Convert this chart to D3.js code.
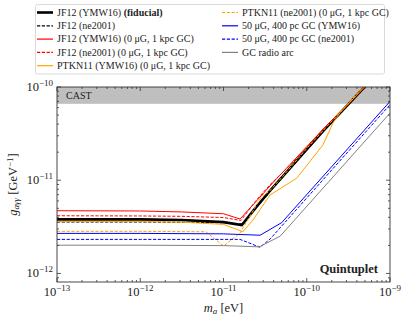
<!DOCTYPE html>
<html>
<head>
<meta charset="utf-8">
<script src="https://d3js.org/d3.v7.min.js"></script>
<style>
  body { margin: 0; background: #fff; }
  text { font-family: "Liberation Serif", "DejaVu Serif", serif; fill: #222; }
</style>
</head>
<body>
<svg width="407" height="322"></svg>
<script>
// curves: axion mass [eV] and coupling limit [GeV^-1]
const jf12ymwM = [1e-13, 1e-12, 3.16e-12, 1e-11, 1.66e-11, 2.51e-11, 3.98e-11, 6.31e-11, 1e-10, 1.58e-10, 2.51e-10, 3.98e-10, 6.31e-10];
const jf12ymwG = [3.8e-12, 3.8e-12, 3.75e-12, 3.55e-12, 3.31e-12, 5.25e-12, 8.51e-12, 1.35e-11, 2.14e-11, 3.39e-11, 5.25e-11, 8.13e-11, 1.26e-10];

const jf12neM = [1e-13, 1e-12, 3.16e-12, 1e-11, 1.7e-11, 2.51e-11, 3.98e-11, 6.31e-11, 1e-10, 1.58e-10, 2.51e-10, 3.98e-10, 6.31e-10];
const jf12neG = [3.56e-12, 3.56e-12, 3.54e-12, 3.5e-12, 3.4e-12, 5.1e-12, 8.3e-12, 1.32e-11, 2.1e-11, 3.35e-11, 5.2e-11, 8.1e-11, 1.26e-10];

const jf12ymw0M = [1e-13, 1e-12, 3.16e-12, 1e-11, 1.58e-11, 2.51e-11, 3.98e-11, 6.31e-11, 1e-10, 1.58e-10, 2.51e-10, 3.98e-10, 6.31e-10];
const jf12ymw0G = [4.71e-12, 4.68e-12, 4.57e-12, 4.37e-12, 3.84e-12, 6.03e-12, 9.55e-12, 1.48e-11, 2.29e-11, 3.55e-11, 5.37e-11, 8.13e-11, 1.26e-10];

const jf12ne0M = [1e-13, 1e-12, 3.16e-12, 1e-11, 1.62e-11, 2.4e-11, 3.6e-11, 6.31e-11, 1e-10, 1.58e-10, 2.51e-10, 3.98e-10, 6.31e-10];
const jf12ne0G = [4.16e-12, 4.14e-12, 4.1e-12, 3.98e-12, 3.7e-12, 5.9e-12, 8.9e-12, 1.45e-11, 2.25e-11, 3.5e-11, 5.3e-11, 8.1e-11, 1.26e-10];

const ptknYmwM = [1e-13, 1e-12, 3.16e-12, 1e-11, 1.71e-11, 2.26e-11, 3.62e-11, 7.57e-11, 1.57e-10, 2.07e-10, 2.51e-10, 3.98e-10, 6.31e-10];
const ptknYmwG = [3.6e-12, 3.6e-12, 3.55e-12, 3.36e-12, 2.8e-12, 3.74e-12, 6.95e-12, 1.05e-11, 2.4e-11, 4.13e-11, 5.3e-11, 8.2e-11, 1.27e-10];

const ptknNeM = [1e-13, 1e-12, 6.17e-12, 1e-11, 1.58e-11, 2.88e-11, 3.55e-11, 5e-11, 1e-10, 2.51e-10, 6.31e-10];
const ptknNeG = [2.83e-12, 2.83e-12, 2.8e-12, 1.97e-12, 2.71e-12, 6.76e-12, 7.6e-12, 1.07e-11, 2.19e-11, 5.37e-11, 1.32e-10];

const gc50ymwM = [1e-13, 1e-12, 1e-11, 2.75e-11, 5e-11, 1e-9];
const gc50ymwG = [2.69e-12, 2.69e-12, 2.66e-12, 2.57e-12, 3.51e-12, 7e-11];

const gc50neM = [1e-13, 1e-12, 1.58e-11, 2.75e-11, 3.63e-11, 1e-9];
const gc50neG = [2.32e-12, 2.32e-12, 2.32e-12, 1.91e-12, 2.34e-12, 6.46e-11];

const arcM = [1e-13, 1e-12, 1e-11, 2.69e-11, 4.79e-11, 1e-9];
const arcG = [2.01e-12, 2.01e-12, 1.99e-12, 1.93e-12, 2.51e-12, 5.25e-11];

const castLimit = 6.6e-11;

const xTickVals = [-13, -12, -11, -10, -9];
const yTickVals = [-12, -11, -10];

const series = [
  { label: "JF12 (YMW16) ", bold: "(fiducial)", m: jf12ymwM, g: jf12ymwG, color: "#000", w: 2.6, dash: null },
  { label: "JF12 (ne2001)", m: jf12neM, g: jf12neG, color: "#000", w: 1, dash: "3.2,1.6" },
  { label: "JF12 (YMW16) (0 μG, 1 kpc GC)", m: jf12ymw0M, g: jf12ymw0G, color: "#ff0000", w: 1, dash: null },
  { label: "JF12 (ne2001) (0 μG, 1 kpc GC)", m: jf12ne0M, g: jf12ne0G, color: "#ff0000", w: 1, dash: "3.2,1.6" },
  { label: "PTKN11 (YMW16) (0 μG, 1 kpc GC)", m: ptknYmwM, g: ptknYmwG, color: "#ffa500", w: 1, dash: null },
  { label: "PTKN11 (ne2001) (0 μG, 1 kpc GC)", m: ptknNeM, g: ptknNeG, color: "#ffa500", w: 1, dash: "3.2,1.6" },
  { label: "50 μG, 400 pc GC (YMW16)", m: gc50ymwM, g: gc50ymwG, color: "#0000ff", w: 1, dash: null },
  { label: "50 μG, 400 pc GC (ne2001)", m: gc50neM, g: gc50neG, color: "#0000ff", w: 1, dash: "3.2,1.6" },
  { label: "GC radio arc", m: arcM, g: arcG, color: "#808080", w: 1, dash: null }
];

const svg = d3.select("svg");
const L = 57, R = 390, T = 87, B = 282;

const x = d3.scaleLog().domain([1e-13, 1e-9]).range([L, R]);
const y = d3.scaleLog().domain([8.1e-13, 1e-10]).range([B, T]);

svg.append("clipPath").attr("id", "clip")
  .append("rect").attr("x", L).attr("y", T).attr("width", R - L).attr("height", B - T);

const plot = svg.append("g").attr("clip-path", "url(#clip)");

// CAST band
plot.append("rect")
  .attr("x", L).attr("y", y(1e-10))
  .attr("width", R - L).attr("height", y(castLimit) - y(1e-10))
  .attr("fill", "#bfbfbf");

const line = d3.line().x(d => x(d[0])).y(d => y(d[1]));

series.forEach(s => {
  plot.append("path")
    .datum(s.m.map((m, i) => [m, s.g[i]]))
    .attr("d", line)
    .attr("fill", "none")
    .attr("stroke", s.color)
    .attr("stroke-width", s.w)
    .attr("stroke-dasharray", s.dash);
});

svg.append("text").attr("x", 66).attr("y", 99).attr("font-size", 10).text("CAST");
svg.append("text").attr("x", 378).attr("y", 273).attr("font-size", 12.5)
  .attr("text-anchor", "end").attr("font-weight", "bold").text("Quintuplet");

// axes, ticks inward
const minorX = [], minorY = [];
for (let e = -13; e < -9; e++) for (let k = 2; k < 10; k++) minorX.push(k * Math.pow(10, e));
for (let e = -13; e < -10; e++) for (let k = 2; k < 10; k++) {
  const v = k * Math.pow(10, e);
  if (v > 8.1e-13 && v < 1e-10) minorY.push(v);
}
const majX = xTickVals.map(e => Math.pow(10, e));
const majY = yTickVals.map(e => Math.pow(10, e));

const ax = svg.append("g").attr("stroke", "#333").attr("stroke-width", 0.8);
[[B, -1], [T, 1]].forEach(([yy, dir]) => {
  minorX.forEach(v => ax.append("line").attr("x1", x(v)).attr("x2", x(v)).attr("y1", yy).attr("y2", yy + dir * 2));
  majX.forEach(v => ax.append("line").attr("x1", x(v)).attr("x2", x(v)).attr("y1", yy).attr("y2", yy + dir * 4));
});
[[L, 1], [R, -1]].forEach(([xx, dir]) => {
  minorY.forEach(v => ax.append("line").attr("y1", y(v)).attr("y2", y(v)).attr("x1", xx).attr("x2", xx + dir * 2));
  majY.forEach(v => ax.append("line").attr("y1", y(v)).attr("y2", y(v)).attr("x1", xx).attr("x2", xx + dir * 4));
});
svg.append("rect").attr("x", L).attr("y", T).attr("width", R - L).attr("height", B - T)
  .attr("fill", "none").attr("stroke", "#333").attr("stroke-width", 0.9);

xTickVals.forEach(e => {
  const t = svg.append("text").attr("x", x(Math.pow(10, e))).attr("y", 296)
    .attr("text-anchor", "middle").attr("font-size", 12.5).attr("fill", "#333");
  t.append("tspan").text("10");
  t.append("tspan").attr("font-size", 9).attr("dy", -5).text("−" + (-e));
});
yTickVals.forEach(e => {
  const t = svg.append("text").attr("x", 53).attr("y", y(Math.pow(10, e)) + 4)
    .attr("text-anchor", "end").attr("font-size", 12.5).attr("fill", "#333");
  t.append("tspan").text("10");
  t.append("tspan").attr("font-size", 9).attr("dy", -5).text("−" + (-e));
});

// axis labels
const xl = svg.append("text").attr("x", (L + R) / 2).attr("y", 312)
  .attr("text-anchor", "middle").attr("font-size", 12.5);
xl.append("tspan").attr("font-style", "italic").text("m");
xl.append("tspan").attr("font-style", "italic").attr("font-size", 9).attr("dy", 2).text("a");
xl.append("tspan").attr("dy", -2).text(" [eV]");

const yl = svg.append("text").attr("transform", `translate(17,${(T + B) / 2}) rotate(-90)`)
  .attr("text-anchor", "middle").attr("font-size", 12.5);
yl.append("tspan").attr("font-style", "italic").text("g");
yl.append("tspan").attr("font-style", "italic").attr("font-size", 9).attr("dy", 2).text("aγγ");
yl.append("tspan").attr("dy", -2).text(" [GeV");
yl.append("tspan").attr("font-size", 9).attr("dy", -4).text("−1");
yl.append("tspan").attr("dy", 4).text("]");

// legend
const lg = svg.append("g");
lg.append("rect").attr("x", 35.5).attr("y", 4.5).attr("width", 349).attr("height", 69.5)
  .attr("rx", 2).attr("fill", "#fff").attr("stroke", "#d0d0d0").attr("stroke-width", 0.8);
series.forEach((s, i) => {
  const col = i < 5 ? 0 : 1;
  const row = i < 5 ? i : i - 5;
  const lx = col === 0 ? 37 : 222;
  const ly = 12.5 + row * 13.3;
  lg.append("line").attr("x1", lx).attr("x2", lx + 16).attr("y1", ly).attr("y2", ly)
    .attr("stroke", s.color).attr("stroke-width", s.w === 1 ? 1.2 : 2.6)
    .attr("stroke-dasharray", s.dash);
  const t = lg.append("text").attr("x", lx + 20).attr("y", ly + 3.3).attr("font-size", 10);
  t.append("tspan").text(s.label);
  if (s.bold) t.append("tspan").attr("font-weight", "bold").text(s.bold);
});
</script>
</body>
</html>
